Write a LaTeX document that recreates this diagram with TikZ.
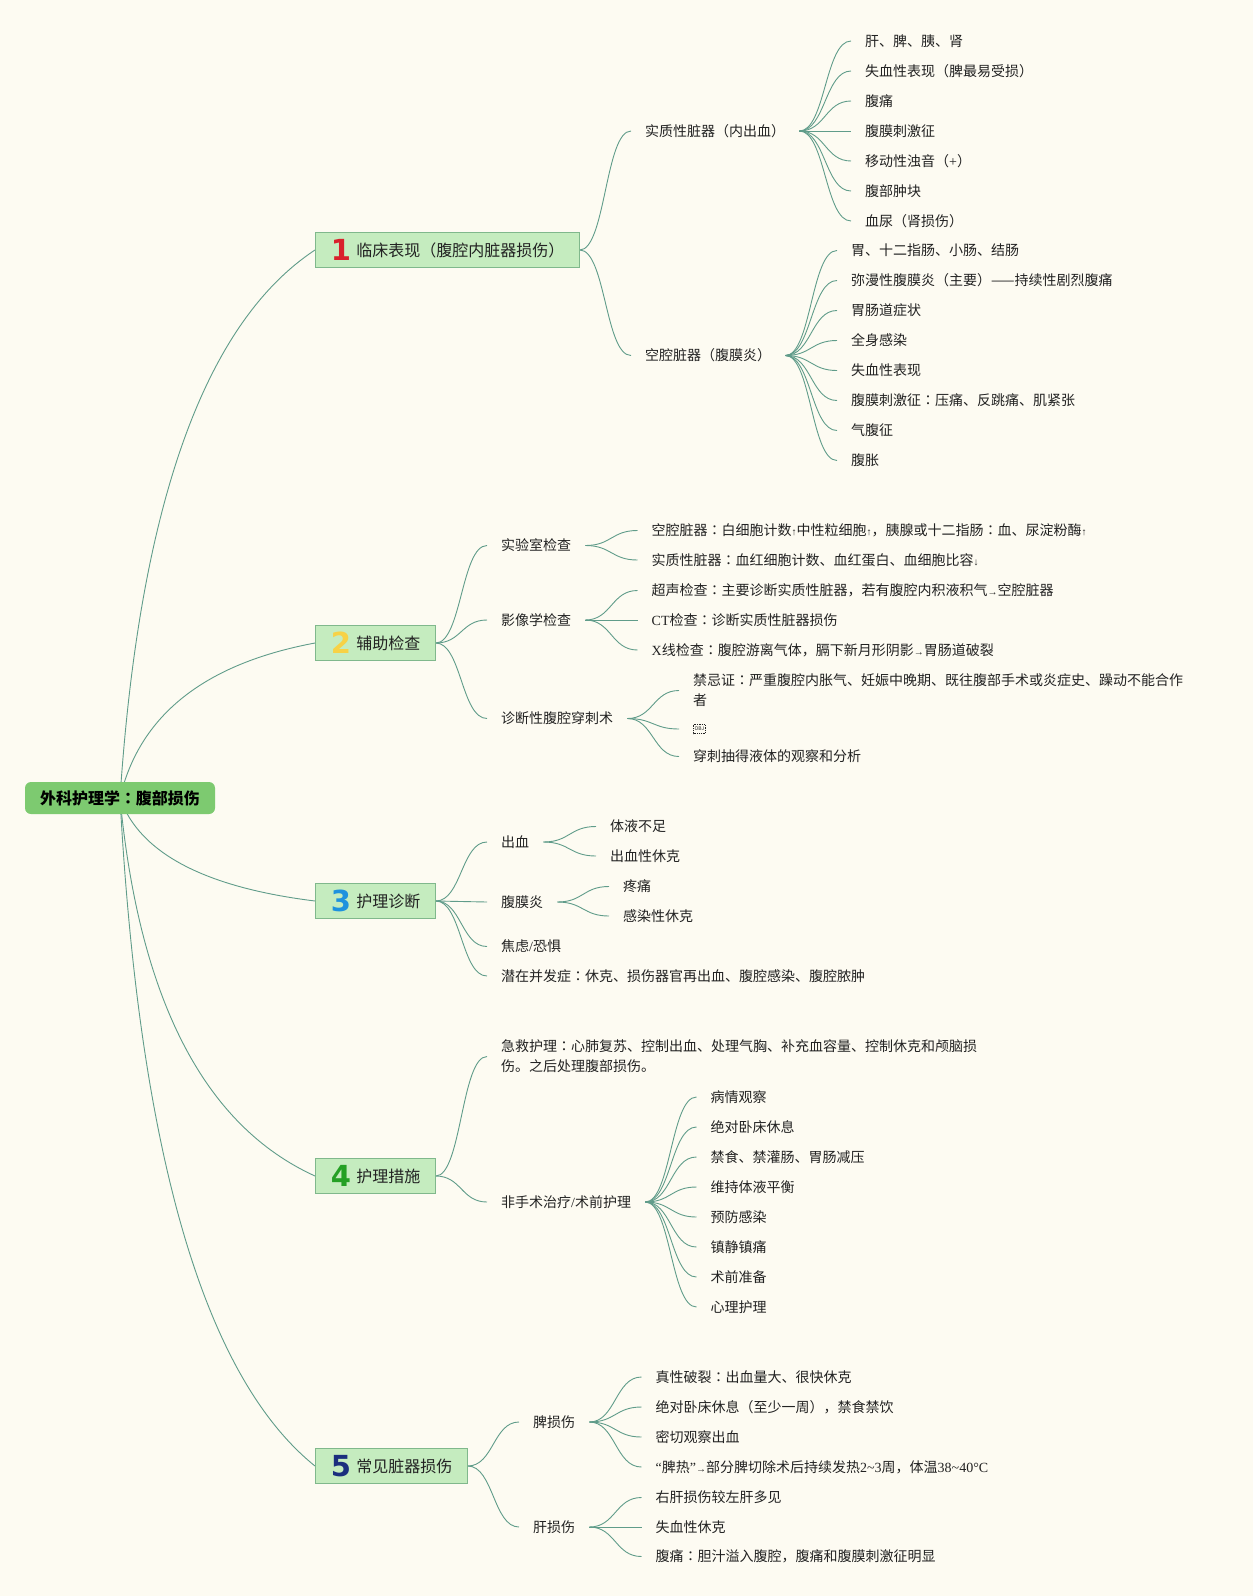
\documentclass[tikz,border=0pt]{standalone}
\usepackage{fontspec}
\setmainfont{Noto Sans CJK SC}
\newfontfamily\latf{Liberation Serif}
\newfontfamily\digf{DejaVu Sans}
\newfontfamily\jpf{Noto Sans CJK JP}
\usetikzlibrary{calc}
\pgfdeclarelayer{bglayer}
\pgfdeclarelayer{lnlayer}
\pgfsetlayers{bglayer,lnlayer,main}
\definecolor{bgc}{RGB}{253,251,242}
\definecolor{lnc}{RGB}{96,156,138}
\definecolor{rootc}{RGB}{125,202,112}
\definecolor{brc}{RGB}{197,236,191}
\definecolor{brd}{RGB}{128,184,140}
\definecolor{txc}{RGB}{34,34,34}
\definecolor{dA}{RGB}{217,33,44}
\definecolor{dB}{RGB}{247,210,70}
\definecolor{dC}{RGB}{30,146,222}
\definecolor{dD}{RGB}{36,160,36}
\definecolor{dE}{RGB}{27,47,126}
\newcommand\myup{{\latf\fontsize{10}{10}\selectfont ↑}}
\newcommand\mydown{{\latf\fontsize{10}{10}\selectfont ↓}}
\newcommand\myarr{{\latf\fontsize{10}{10}\selectfont →}}
\newcommand\zc{{\jpf ：}}
\newcommand\brtext[3]{\hspace*{17pt}\raisebox{-4.5pt}{\makebox[17pt][c]{\textcolor{#1}{\digf\bfseries\fontsize{29}{29}\selectfont #2}}}\hspace{7pt}#3\hspace*{15pt}}
\begin{document}
\begin{tikzpicture}[x=1pt,y=-1pt,
  rootbox/.style={fill=rootc, rounded corners=6pt, minimum width=190pt, minimum height=32pt, inner sep=0pt, text height=12pt, text depth=0pt, font=\fontsize{16}{16}\selectfont\bfseries, text=black},
  brbox/.style={fill=brc, draw=brd, line width=0.8pt, minimum height=35pt, inner xsep=0pt, inner ysep=0pt, anchor=west, text height=12pt, text depth=0pt, font=\fontsize{16}{16}\selectfont, text=txc},
  leaf/.style={anchor=west, inner xsep=14pt, inner ysep=0pt, text height=10.5pt, text depth=0pt, font=\fontsize{14}{20}\selectfont, text=txc},
  leafm/.style={anchor=west, inner xsep=14pt, inner ysep=0pt, align=left, font=\fontsize{14}{20}\selectfont, text=txc},
  lk/.style={draw=lnc, line width=0.9pt, to path={.. controls ($(\tikztostart)!0.5!(\tikztotarget |- \tikztostart)$) and ($(\tikztotarget)!0.5!(\tikztostart |- \tikztotarget)$) .. (\tikztotarget)}},
  rl/.style={draw=lnc, line width=0.9pt}
]
\begin{pgfonlayer}{bglayer}
\fill[bgc] (0,0) rectangle (1253,1596);
\end{pgfonlayer}
\useasboundingbox (0,0) rectangle (1253,1596);

% root and branches
\node[rootbox] (root) at (120,798) {外科护理学{\jpf\bfseries ：}腹部损伤};
\node[brbox] (b1) at (315,250) {\brtext{dA}{1}{临床表现（腹腔内脏器损伤）}};
\node[brbox] (b2) at (315,643) {\brtext{dB}{2}{辅助检查}};
\node[brbox] (b3) at (315,901) {\brtext{dC}{3}{护理诊断}};
\node[brbox] (b4) at (315,1176) {\brtext{dD}{4}{护理措施}};
\node[brbox] (b5) at (315,1466) {\brtext{dE}{5}{常见脏器损伤}};

\begin{pgfonlayer}{lnlayer}
\draw[rl] (root.center) .. controls (139.3,505.7) and (204.3,323.1) .. (b1.west);
\draw[rl] (root.center) .. controls (139.3,715.3) and (204.3,663.7) .. (b2.west);
\draw[rl] (root.center) .. controls (139.3,852.9) and (204.3,887.3) .. (b3.west);
\draw[rl] (root.center) .. controls (139.3,999.6) and (204.3,1125.6) .. (b4.west);
\draw[rl] (root.center) .. controls (139.3,1154.3) and (204.3,1376.9) .. (b5.west);
\end{pgfonlayer}

% ---- branch 1
\node[leaf] (c11) at (631,131) {实质性脏器（内出血）};
\node[leaf] (c12) at (631,355.5) {空腔脏器（腹膜炎）};
\foreach \t [count=\i from 0] in {肝、脾、胰、肾, 失血性表现（脾最易受损）, 腹痛, 腹膜刺激征, {移动性浊音（{\latf +}）}, 腹部肿块, 血尿（肾损伤）}{
  \node[leaf] (g11-\i) at (851,{41+30*\i}) {\t};
  \begin{pgfonlayer}{lnlayer}\draw[lk] (c11.east) to (g11-\i.west);\end{pgfonlayer}
}
\foreach \t [count=\i from 0] in {胃、十二指肠、小肠、结肠, 弥漫性腹膜炎（主要）——持续性剧烈腹痛, 胃肠道症状, 全身感染, 失血性表现, 腹膜刺激征\zc 压痛、反跳痛、肌紧张, 气腹征, 腹胀}{
  \node[leaf] (g12-\i) at (837,{250.5+30*\i}) {\t};
  \begin{pgfonlayer}{lnlayer}\draw[lk] (c12.east) to (g12-\i.west);\end{pgfonlayer}
}

% ---- branch 2
\node[leaf] (c21) at (487,545.5) {实验室检查};
\node[leaf] (c22) at (487,620) {影像学检查};
\node[leaf] (c23) at (487,718.5) {诊断性腹腔穿刺术};
\node[leaf] (g21-0) at (637.5,530.5) {空腔脏器\zc 白细胞计数\myup 中性粒细胞\myup ，胰腺或十二指肠\zc 血、尿淀粉酶\myup};
\node[leaf] (g21-1) at (637.5,560) {实质性脏器\zc 血红细胞计数、血红蛋白、血细胞比容\mydown};
\node[leaf] (g22-0) at (637.5,590.5) {超声检查\zc 主要诊断实质性脏器，若有腹腔内积液积气\myarr 空腔脏器};
\node[leaf] (g22-1) at (637.5,620) {{\latf CT}检查\zc 诊断实质性脏器损伤};
\node[leaf] (g22-2) at (637.5,650) {{\latf X}线检查\zc 腹腔游离气体，膈下新月形阴影\myarr 胃肠道破裂};
\node[leafm] (g23-0) at (679,690.5) {禁忌证\zc 严重腹腔内胀气、妊娠中晚期、既往腹部手术或炎症史、躁动不能合作\\者};
\node[leaf] (g23-1) at (679,729) {\hspace*{13pt}};
\draw[dashed, dash pattern=on 1pt off 0.8pt, line width=0.5pt, draw=txc] ($(g23-1.west)+(14.5,-4.5)$) rectangle ($(g23-1.west)+(26.5,4.5)$);
\node[inner sep=0pt, font=\fontsize{5}{5}\selectfont, text=txc] (objt) at ($(g23-1.west)+(20.5,0)$) {OBJ};
\node[leaf] (g23-2) at (679,756.5) {穿刺抽得液体的观察和分析};
\begin{pgfonlayer}{lnlayer}
\draw[lk] (b2.east) to (c21.west);
\draw[lk] (b2.east) to (c22.west);
\draw[lk] (b2.east) to (c23.west);
\draw[lk] (c21.east) to (g21-0.west);
\draw[lk] (c21.east) to (g21-1.west);
\draw[lk] (c22.east) to (g22-0.west);
\draw[lk] (c22.east) to (g22-1.west);
\draw[lk] (c22.east) to (g22-2.west);
\draw[lk] (c23.east) to (g23-0.west);
\draw[lk] (c23.east) to (g23-1.west);
\draw[lk] (c23.east) to (g23-2.west);
\draw[lk] (b1.east) to (c11.west);
\draw[lk] (b1.east) to (c12.west);
\end{pgfonlayer}

% ---- branch 3
\node[leaf] (c31) at (487,842) {出血};
\node[leaf] (c32) at (487,902) {腹膜炎};
\node[leaf] (c33) at (487,946.5) {焦虑{\latf /}恐惧};
\node[leaf] (c34) at (487,976) {潜在并发症\zc 休克、损伤器官再出血、腹腔感染、腹腔脓肿};
\node[leaf] (g31-0) at (596,826.5) {体液不足};
\node[leaf] (g31-1) at (596,856) {出血性休克};
\node[leaf] (g32-0) at (609,886.5) {疼痛};
\node[leaf] (g32-1) at (609,916) {感染性休克};
\begin{pgfonlayer}{lnlayer}
\draw[lk] (b3.east) to (c31.west);
\draw[lk] (b3.east) to (c32.west);
\draw[lk] (b3.east) to (c33.west);
\draw[lk] (b3.east) to (c34.west);
\draw[lk] (c31.east) to (g31-0.west);
\draw[lk] (c31.east) to (g31-1.west);
\draw[lk] (c32.east) to (g32-0.west);
\draw[lk] (c32.east) to (g32-1.west);
\end{pgfonlayer}

% ---- branch 4
\node[leafm] (c41) at (487,1056.5) {急救护理\zc 心肺复苏、控制出血、处理气胸、补充血容量、控制休克和颅脑损\\伤。之后处理腹部损伤。};
\node[leaf] (c42) at (487,1202) {非手术治疗{\latf /}术前护理};
\begin{pgfonlayer}{lnlayer}
\draw[lk] (b4.east) to (c41.west);
\draw[lk] (b4.east) to (c42.west);
\end{pgfonlayer}
\foreach \t [count=\i from 0] in {病情观察, 绝对卧床休息, 禁食、禁灌肠、胃肠减压, 维持体液平衡, 预防感染, 镇静镇痛, 术前准备, 心理护理}{
  \node[leaf] (g42-\i) at (696.5,{1097+30*\i}) {\t};
  \begin{pgfonlayer}{lnlayer}\draw[lk] (c42.east) to (g42-\i.west);\end{pgfonlayer}
}

% ---- branch 5
\node[leaf] (c51) at (519,1422) {脾损伤};
\node[leaf] (c52) at (519,1527) {肝损伤};
\begin{pgfonlayer}{lnlayer}
\draw[lk] (b5.east) to (c51.west);
\draw[lk] (b5.east) to (c52.west);
\end{pgfonlayer}
\foreach \t [count=\i from 0] in {真性破裂\zc 出血量大、很快休克, 绝对卧床休息（至少一周），禁食禁饮, 密切观察出血, {{\latf “}脾热{\latf ”}\myarr 部分脾切除术后持续发热{\latf 2\textasciitilde 3}周，体温{\latf 38\textasciitilde 40°C}}}{
  \node[leaf] (g51-\i) at (641.5,{1377+30*\i}) {\t};
  \begin{pgfonlayer}{lnlayer}\draw[lk] (c51.east) to (g51-\i.west);\end{pgfonlayer}
}
\foreach \t [count=\i from 0] in {右肝损伤较左肝多见, 失血性休克, 腹痛\zc 胆汁溢入腹腔，腹痛和腹膜刺激征明显}{
  \node[leaf] (g52-\i) at (641.5,{1497.5+29.5*\i}) {\t};
  \begin{pgfonlayer}{lnlayer}\draw[lk] (c52.east) to (g52-\i.west);\end{pgfonlayer}
}
\end{tikzpicture}
\end{document}
